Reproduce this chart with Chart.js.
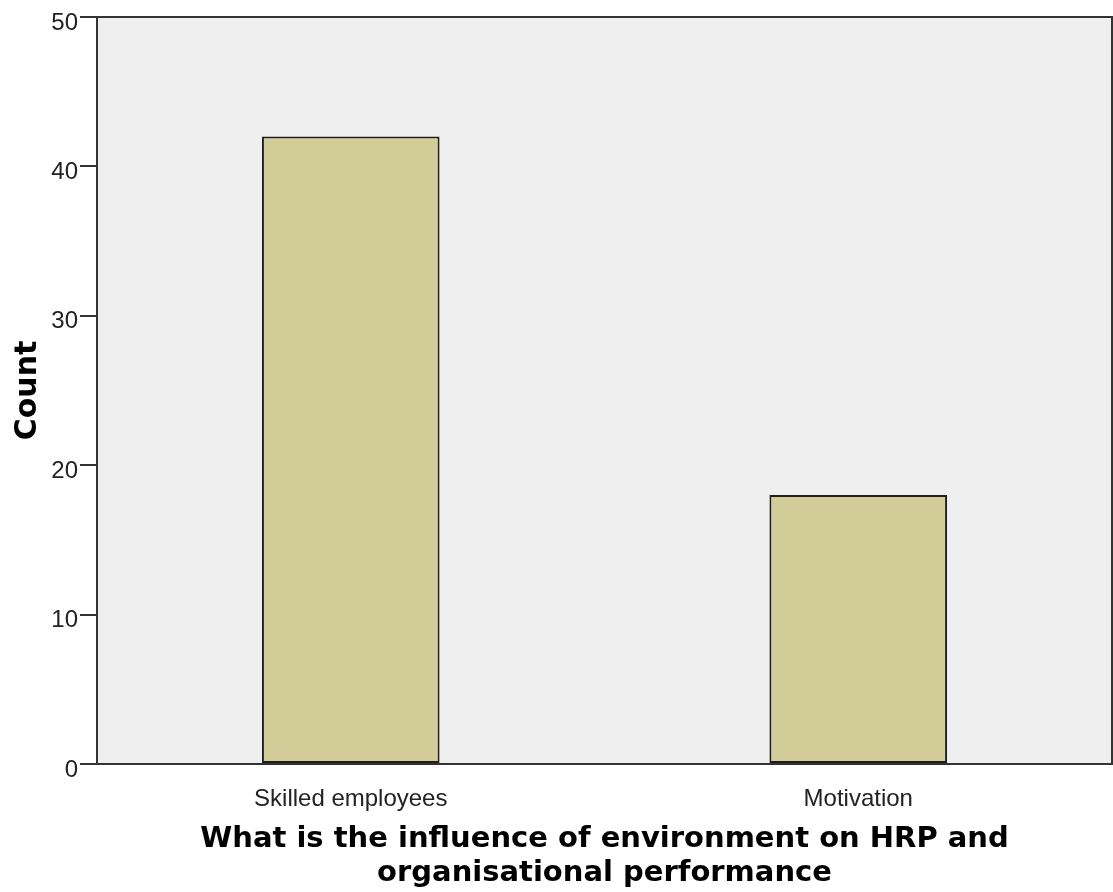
<!DOCTYPE html>
<html><head><meta charset="utf-8">
<script src="https://cdn.jsdelivr.net/npm/chart.js@4"></script>
<style>html,body{margin:0;padding:0;background:#fff}#wrap{width:1113px;height:892px}</style>
</head><body><div id="wrap"><canvas id="c"></canvas></div>
<script>
const categories = ["Skilled employees", "Motivation"];
const counts = [42, 18];
const yTicks = [0, 10, 20, 30, 40, 50];
const xTitle = ["What is the influence of environment on HRP and", "organisational performance"];
const yTitle = "Count";

const framePlugin = {
  id: 'frame',
  beforeDraw(chart) {
    const {ctx, chartArea: a} = chart;
    ctx.save();
    ctx.fillStyle = '#efefef';
    ctx.fillRect(a.left, a.top, a.right - a.left, a.bottom - a.top);
    ctx.restore();
  },
  afterDraw(chart) {
    const {ctx, chartArea: a} = chart;
    ctx.save();
    ctx.strokeStyle = '#333';
    ctx.lineWidth = 2;
    ctx.strokeRect(a.left, a.top, a.right - a.left, a.bottom - a.top);
    ctx.restore();
  }
};

new Chart(document.getElementById('c'), {
  type: 'bar',
  data: {
    labels: categories,
    datasets: [{
      data: counts,
      backgroundColor: '#d2cd98',
      borderColor: '#1e1e1e',
      borderWidth: 2,
      borderSkipped: false,
      barPercentage: 0.35,
      categoryPercentage: 1
    }]
  },
  options: {
    responsive: true,
    maintainAspectRatio: false,
    animation: false,
    layout: {padding: {top: 17, right: 1, left: 0, bottom: 0}},
    plugins: {legend: {display: false}, tooltip: {enabled: false}},
    scales: {
      x: {
        grid: {display: false, drawTicks: false},
        border: {display: true, color: '#333', width: 2},
        ticks: {padding: 21, color: '#222', font: {family: 'Liberation Sans, Arial, sans-serif', size: 24}},
        title: {display: true, text: xTitle, color: '#000', padding: {top: 4, bottom: 2},
          font: {family: 'DejaVu Sans, Verdana, sans-serif', size: 29, weight: 'bold', lineHeight: 1.16}},
        afterFit(s) { s.height = 128; }
      },
      y: {
        min: 0, max: 50,
        afterBuildTicks(s) { s.ticks = yTicks.map(v => ({value: v})); },
        grid: {drawOnChartArea: false, drawTicks: true, tickLength: 17, color: '#333', lineWidth: 2},
        border: {display: true, color: '#333', width: 2},
        ticks: {padding: 2, labelOffset: 6, color: '#222', font: {family: 'Liberation Sans, Arial, sans-serif', size: 24}},
        title: {display: true, text: yTitle, color: '#000', padding: {top: 10, bottom: 0},
          font: {family: 'DejaVu Sans, Verdana, sans-serif', size: 30, weight: 'bold'}},
        afterFit(s) { s.width = 97; }
      }
    }
  },
  plugins: [framePlugin]
});
</script></body></html>
